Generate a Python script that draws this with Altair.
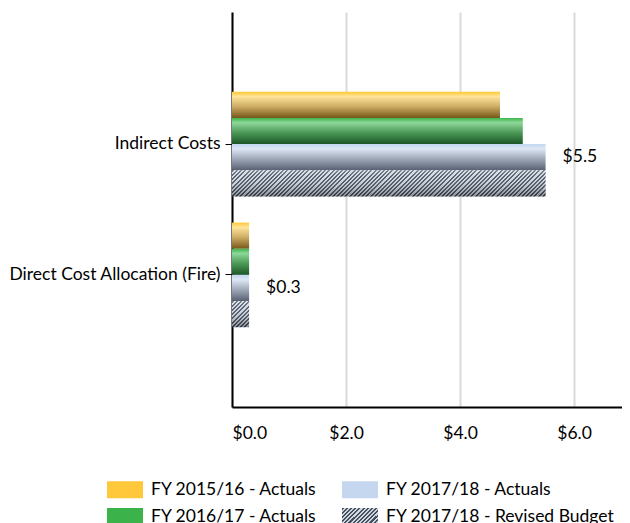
import altair as alt
import pandas as pd

# ---------------- data ----------------
categories = ["Indirect Costs", "Direct Cost Allocation (Fire)"]
series = [
    "FY 2015/16 - Actuals",
    "FY 2016/17 - Actuals",
    "FY 2017/18 - Actuals",
    "FY 2017/18 - Revised Budget",
]
indirect_values = [4.7, 5.1, 5.5, 5.5]
direct_values = [0.3, 0.3, 0.3, 0.3]
label_series = "FY 2017/18 - Actuals"
legend_colors = ["#FFC73A", "#3CB34A", "#C5D7EF", "#8C97A8"]
x_ticks = [0, 2, 4, 6]

rows = []
for cat, vals in zip(categories, [indirect_values, direct_values]):
    for s, v in zip(series, vals):
        rows.append({"category": cat, "series": s, "value": v})
df = pd.DataFrame(rows)

# ---------------- layout / style ----------------
FONT = "Lato"
FS = 17.5
W, H = 390, 395
X_MAX = 6.84
PX = W / X_MAX
P_IN, P_OUT = 0.2, 0.61
STEP = H / (len(categories) - P_IN + 2 * P_OUT)
BAR_H = STEP * (1 - P_IN) / len(series)


def vgrad(stops):
    return alt.LinearGradient(
        gradient="linear", x1=0, y1=0, x2=0, y2=1,
        stops=[alt.GradientStop(offset=o, color=c) for o, c in stops],
    )


def hatch_dict(w, h, period=4.2, dark_frac=0.5, dark="#46505F", light="#CDD5E1"):
    total = w + h
    k = total / (w * w + h * h)
    stops = []
    i = 0
    while i * period < total:
        t0 = i * period / total
        t1 = min((i * period + period * dark_frac) / total, 1.0)
        t2 = min((i + 1) * period / total, 1.0)
        stops += [(t0, dark), (t1, dark), (t1, light), (t2, light)]
        i += 1
    return {
        "x2": round(w * k, 5), "y2": round(h * k, 5),
        "stops": [(round(o, 5), c) for o, c in stops],
    }


def hatch(w, h, **kw):
    d = hatch_dict(w, h, **kw)
    return alt.LinearGradient(
        gradient="linear", x1=0, y1=0, x2=d["x2"], y2=d["y2"],
        stops=[alt.GradientStop(offset=o, color=c) for o, c in d["stops"]],
    )


def hatch_expr(w, h, **kw):
    d = hatch_dict(w, h, **kw)
    stops = ",".join("{offset:%s,color:'%s'}" % (o, c) for o, c in d["stops"])
    return "{gradient:'linear',x1:0,y1:0,x2:%s,y2:%s,stops:[%s]}" % (d["x2"], d["y2"], stops)


grad_yellow = vgrad([(0, "#FFC834"), (0.18, "#FFE49A"), (0.55, "#CFAE66"), (1, "#755719")])
grad_green = vgrad([(0, "#3DB54B"), (0.18, "#8ED79A"), (0.55, "#4D9B59"), (1, "#1C5527")])
grad_blue = vgrad([(0, "#C3D7F1"), (0.18, "#DDE7F5"), (0.55, "#A2ABBA"), (1, "#566072")])
shade = vgrad([(0, "rgba(255,255,255,0.30)"), (0.25, "rgba(255,255,255,0.10)"), (1, "rgba(0,0,0,0.35)")])

x_axis = alt.Axis(
    values=x_ticks, format="$.1f", title=None, grid=True, gridColor="#D9D9D9",
    gridWidth=2, domainColor="black", domainWidth=2, ticks=False,
    labelFont=FONT, labelFontSize=FS, labelColor="black", labelPadding=17,
)
y_axis = alt.Axis(
    title=None, domainColor="black", domainWidth=2, tickColor="black",
    tickSize=7, tickWidth=1, labelFont=FONT, labelFontSize=FS,
    labelColor="black", labelPadding=5, labelLimit=400,
)

enc = dict(
    x=alt.X("value:Q", scale=alt.Scale(domain=[0, X_MAX], nice=False, zero=True), axis=x_axis),
    y=alt.Y("category:N", sort=categories,
            scale=alt.Scale(domain=categories, paddingInner=P_IN, paddingOuter=P_OUT),
            axis=y_axis),
    yOffset=alt.YOffset("series:N", sort=series,
                        scale=alt.Scale(domain=series, paddingInner=0, paddingOuter=0)),
)

base = alt.Chart(df)


def bars_for(s, fill, cat=None):
    ch = base.transform_filter(alt.datum.series == s)
    if cat is not None:
        ch = ch.transform_filter(alt.datum.category == cat)
    return ch.mark_bar(fill=fill).encode(**enc)


layers = [
    bars_for(series[0], grad_yellow),
    bars_for(series[1], grad_green),
    bars_for(series[2], grad_blue),
]
for cat, vals in zip(categories, [indirect_values, direct_values]):
    layers.append(bars_for(series[3], hatch(vals[3] * PX, BAR_H), cat))
layers.append(bars_for(series[3], shade))

labels = base.transform_filter(alt.datum.series == label_series).mark_text(
    align="left", baseline="middle", dx=17, font=FONT, fontSize=FS, color="black"
).encode(text=alt.Text("value:Q", format="$.1f"), **enc)
layers.append(labels)

legend_range_variants = [
    legend_colors[:3] + [alt.ExprRef(expr=hatch_expr(36, 17, period=4.2))],
    legend_colors,
]


def legend_layer(rng):
    lg = alt.Legend(
        orient="none", legendX=-125, legendY=459.5, columns=2, title=None,
        symbolType="M-1,-0.472H1V0.472H-1Z", symbolSize=1296,
        symbolOpacity=1, symbolStrokeWidth=0, labelFont=FONT, labelFontSize=FS,
        labelColor="black", labelOffset=8, columnPadding=25, rowPadding=-11,
        padding=0, labelLimit=400,
    )
    return base.mark_bar(opacity=0).encode(
        color=alt.Color("series:N", scale=alt.Scale(domain=series, range=rng), legend=lg),
        **enc,
    )


def build(rng, title=None):
    props = dict(
        width=W, height=H,
        padding={"top": 4, "left": 0, "right": 0, "bottom": 0},
        background="white",
    )
    if title:
        props["title"] = alt.Title(title, fontSize=9, anchor="start")
    return alt.layer(*layers, legend_layer(rng)).properties(**props).configure_view(stroke=None)


msgs = []
chosen = None
for idx, rng in enumerate(legend_range_variants):
    try:
        build(rng).to_dict()
        chosen = idx
        break
    except Exception as e:
        msgs.append("%d: %s" % (idx, str(e).replace("\n", " ")[:110]))

chart = build(legend_range_variants[chosen], msgs if msgs else None)
chart.save("out.html", embed_options={"renderer": "svg", "actions": False})
